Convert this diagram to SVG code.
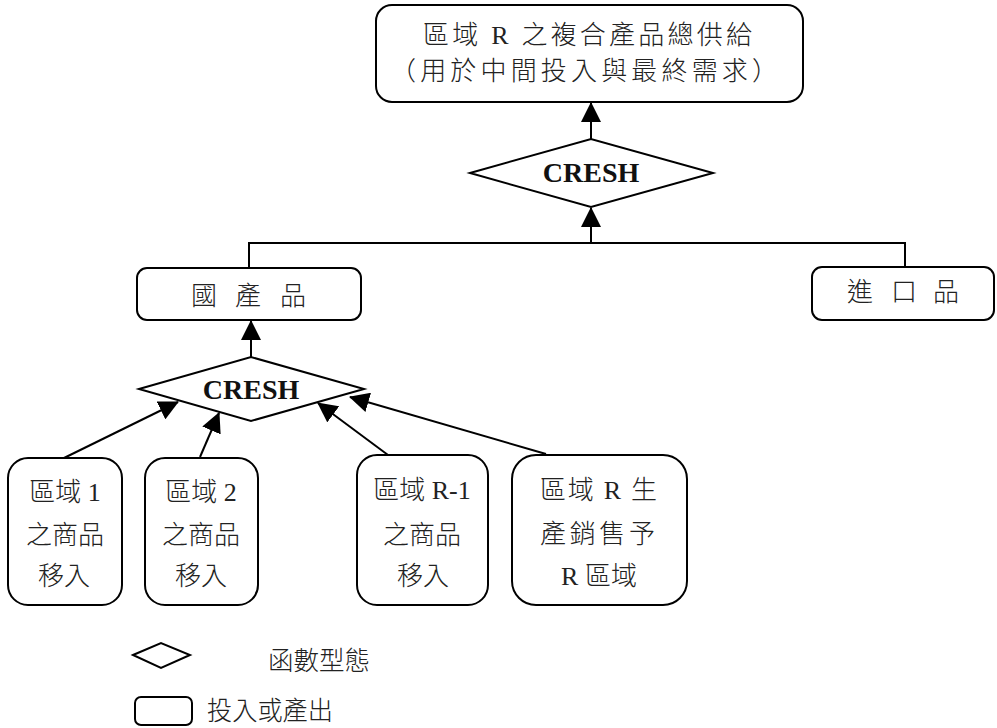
<svg xmlns="http://www.w3.org/2000/svg" width="997" height="728" viewBox="0 0 997 728">
<defs>
<marker id="arr" markerUnits="userSpaceOnUse" markerWidth="20" markerHeight="20" refX="19" refY="10" orient="auto" viewBox="0 0 20 20">
<path d="M0,0 L20,10 L0,20 Z" fill="#000"/>
</marker>
<style>
.box{fill:#fff;stroke:#000;stroke-width:2}
.t{font-family:"Liberation Serif","Noto Sans CJK TC","Noto Sans CJK SC",serif;font-size:26px;font-weight:300;fill:#222}
.c{font-family:"Liberation Serif",serif;font-size:28px;font-weight:bold;fill:#111;text-anchor:middle}
.m{text-anchor:middle}
.ln{fill:none;stroke:#000;stroke-width:2}
</style>
</defs>
<rect width="997" height="728" fill="#fff"/>
<g id="connectors">
<line class="ln" x1="591" y1="139" x2="591" y2="103" marker-end="url(#arr)"/>
<line class="ln" x1="591" y1="243" x2="591" y2="208" marker-end="url(#arr)"/>
<polyline class="ln" points="249,268 249,243 905,243 905,267"/>
<line class="ln" x1="251" y1="357" x2="251" y2="321" marker-end="url(#arr)"/>
<line class="ln" x1="64" y1="458" x2="178" y2="402" marker-end="url(#arr)"/>
<line class="ln" x1="200" y1="457" x2="219" y2="413" marker-end="url(#arr)"/>
<line class="ln" x1="388" y1="455" x2="318" y2="403" marker-end="url(#arr)"/>
<line class="ln" x1="546" y1="454" x2="350" y2="397" marker-end="url(#arr)"/>
</g>
<g id="total">
<rect class="box" x="376" y="5" width="427" height="97" rx="16"/>
<text class="t" x="423" y="44" textLength="329" lengthAdjust="spacing">區域 R 之複合產品總供給</text>
<text class="t" x="390" y="80" textLength="388" lengthAdjust="spacing">（用於中間投入與最終需求）</text>
</g>
<g id="cresh1">
<polygon class="box" points="470,173 591,139 713,173 591,207"/>
<text class="c" x="591" y="182">CRESH</text>
</g>
<g id="domestic">
<rect class="box" x="137" y="268" width="224" height="52" rx="10"/>
<text class="t" x="191 235 280" y="305">國產品</text>
</g>
<g id="import">
<rect class="box" x="812" y="267" width="182" height="53" rx="10"/>
<text class="t" x="847 891 933" y="301">進口品</text>
</g>
<g id="cresh2">
<polygon class="box" points="139,389 251,357 364,389 251,421"/>
<text class="c" x="251" y="399">CRESH</text>
</g>
<g id="region1">
<rect class="box" x="8" y="458" width="114" height="147" rx="20"/>
<text class="t m" x="65" y="501">區域 1</text>
<text class="t m" x="65" y="544">之商品</text>
<text class="t m" x="64" y="585">移入</text>
</g>
<g id="region2">
<rect class="box" x="145" y="458" width="113" height="147" rx="20"/>
<text class="t m" x="201" y="501">區域 2</text>
<text class="t m" x="201" y="544">之商品</text>
<text class="t m" x="201" y="585">移入</text>
</g>
<g id="regionR1">
<rect class="box" x="357" y="455" width="131" height="150" rx="20"/>
<text class="t m" x="422" y="499">區域 R-1</text>
<text class="t m" x="422" y="544">之商品</text>
<text class="t m" x="423" y="585">移入</text>
</g>
<g id="regionR">
<rect class="box" x="512" y="455" width="175" height="150" rx="24"/>
<text class="t" x="540" y="499" textLength="117" lengthAdjust="spacing">區域 R 生</text>
<text class="t" x="540" y="543" textLength="115" lengthAdjust="spacing">產銷售予</text>
<text class="t m" x="599" y="585">R 區域</text>
</g>
<g id="legend">
<polygon class="box" points="133,655 161,643 190,655 161,668"/>
<text class="t" x="268" y="670" textLength="102" lengthAdjust="spacingAndGlyphs">函數型態</text>
<rect class="box" x="135" y="697" width="57" height="28" rx="6"/>
<text class="t" x="207" y="720" textLength="126" lengthAdjust="spacingAndGlyphs">投入或產出</text>
</g>
</svg>
